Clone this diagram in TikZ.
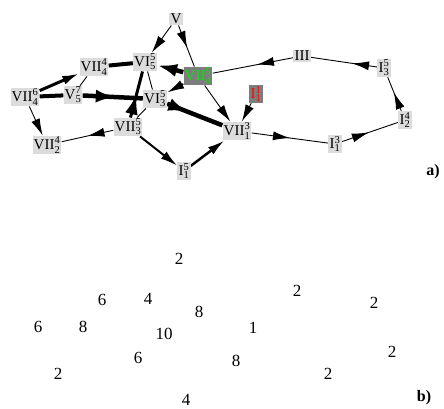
\documentclass[tikz,border=0pt]{standalone}
\usepackage{fontspec}
\setmainfont{Liberation Serif}
\setmathrm{Liberation Serif}
\usetikzlibrary{arrows.meta,decorations.markings}
\definecolor{nodegray}{RGB}{220,220,220}
\definecolor{darkbox}{RGB}{125,125,125}
\definecolor{brightgreen}{RGB}{0,235,0}
\pgfdeclarelayer{edgelayer}
\pgfsetlayers{edgelayer,main}
\newcommand{\lbl}[3]{$\mathrm{#1}^{\mathrm{#2}}_{\mathrm{#3}}$}
\tikzset{
  nd/.style={fill=nodegray,inner sep=1.2pt,font=\fontsize{15}{15}\selectfont},
  dk/.style={fill=darkbox,inner sep=1.2pt,font=\fontsize{15}{15}\selectfont},
  num/.style={font=\fontsize{17}{17}\selectfont,inner sep=0pt},
  lab/.style={font=\fontsize{16}{16}\selectfont\bfseries,inner sep=0pt},
  ed/.style={draw=black,line width=0.9pt},
  midarr/.style={postaction={decorate},decoration={markings,mark=at position #1 with {\arrow{Latex[length=17pt,width=9pt]}}}},
  bigarr/.style={postaction={decorate},decoration={markings,mark=at position #1 with {\arrow{Latex[length=20pt,width=13pt]}}}},
  endarr/.style={-{Latex[length=17pt,width=9pt]}},
  bigend/.style={-{Latex[length=20pt,width=13pt]}},
}
\begin{document}
\begin{tikzpicture}[x=1pt,y=-1pt]
\useasboundingbox (0,0) rectangle (444,408);
% nodes
\node[nd] (V) at (176,19) {V};
\node[nd] (VI55) at (145,62) {\lbl{VI}{5}{5}};
\node[dk,text=brightgreen] (VII45) at (198,76) {\lbl{VII}{5}{4}};
\node[nd] (VII44) at (94,67) {\lbl{VII}{4}{4}};
\node[nd] (VII46) at (25,97) {\lbl{VII}{6}{4}};
\node[nd] (V57) at (73,95) {\lbl{V}{7}{5}};
\node[nd] (VI35) at (155,99) {\lbl{VI}{5}{3}};
\node[nd] (VII35) at (128,127) {\lbl{VII}{5}{3}};
\node[nd] (VII24) at (47,145) {\lbl{VII}{4}{2}};
\node[nd] (I15) at (184,171) {\lbl{I}{5}{1}};
\node[nd] (VII13) at (237,131) {\lbl{VII}{3}{1}};
\node[dk,text=red] (I11) at (256,94) {\lbl{I}{1}{1}};
\node[nd] (III) at (302,56) {III};
\node[nd] (I35) at (384,68) {\lbl{I}{5}{3}};
\node[nd] (I24) at (405,120) {\lbl{I}{4}{2}};
\node[nd] (I13) at (335,144) {\lbl{I}{3}{1}};
\node[lab] (la) at (433,172) {a)};
% edges
\begin{pgfonlayer}{edgelayer}
\draw[ed,line width=4pt] (VII46) -- (V57);
\draw[ed,line width=4pt] (VII44) -- (VI55);
\draw[ed] (V57) -- (VII44);
\draw[ed] (VI35) -- (VII35);
\draw[ed] (VI35) -- (VI55);
\draw[ed,endarr] (V) -- (VI55);
\draw[ed,midarr=0.55] (V) -- (VII45);
\draw[ed,line width=4.5pt,bigend] (VII45) -- (VI55);
\draw[ed,line width=1.5pt,endarr] (VII45) -- (VI35);
\draw[ed,endarr] (VII45) -- (VII13);
\draw[ed,midarr=0.45] (III) -- (VII45);
\draw[ed,midarr=0.38] (I35) -- (III);
\draw[ed,midarr=0.55] (I24) -- (I35);
\draw[ed,midarr=0.48] (I13) -- (I24);
\draw[ed,midarr=0.5] (VII13) -- (I13);
\draw[ed,endarr] (I11) -- (VII13);
\draw[ed,line width=4.5pt,bigarr=0.38] (VI35) -- (VII13);
\draw[ed,line width=2.5pt,endarr] (I15) -- (VII13);
\draw[ed,line width=2pt,endarr] (VII35) -- (I15);
\draw[ed,midarr=0.5] (VII35) -- (VII24);
\draw[ed,line width=3pt,bigarr=0.5] (VII35) -- (VI55);
\draw[ed,line width=3pt,endarr] (VII46) -- (VII44);
\draw[ed,endarr] (VII46) -- (VII24);
\draw[ed,line width=4.5pt,bigarr=0.55] (V57) -- (VI35);
\end{pgfonlayer}
% panel b
\node[num] (n1) at (179,259) {2};
\node[num] (n2) at (102,300) {6};
\node[num] (n3) at (148,299) {4};
\node[num] (n4) at (199,312) {8};
\node[num] (n5) at (297,291) {2};
\node[num] (n6) at (374,303) {2};
\node[num] (n7) at (38,327) {6};
\node[num] (n8) at (83,327) {8};
\node[num] (n9) at (164,334) {10};
\node[num] (n10) at (253,328) {1};
\node[num] (n11) at (138,358) {6};
\node[num] (n12) at (236,361) {8};
\node[num] (n13) at (392,352) {2};
\node[num] (n14) at (58,374) {2};
\node[num] (n15) at (328,374) {2};
\node[num] (n16) at (186,400) {4};
\node[lab] (lb) at (424,398) {b)};
\end{tikzpicture}
\end{document}
